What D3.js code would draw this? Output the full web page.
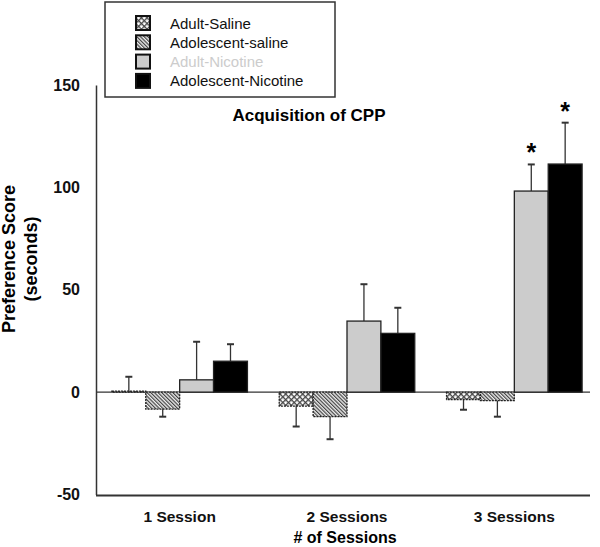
<!DOCTYPE html>
<html><head><meta charset="utf-8">
<script src="https://cdn.jsdelivr.net/npm/d3@7"></script>
<style>body{margin:0;background:#fff}svg{display:block}text{font-family:Arial,"Liberation Sans",sans-serif}</style>
</head><body><svg id="c" width="600" height="547"></svg>
<script>
const sessions = ["1 Session", "2 Sessions", "3 Sessions"];
const groups = ["Adult-Saline", "Adolescent-saline", "Adult-Nicotine", "Adolescent-Nicotine"];
const adultSaline = [0.5, -6.8, -3.6];
const adultSalineErr = [7, 10, 5];
const adolSaline = [-8.3, -12, -4.2];
const adolSalineErr = [3.7, 11, 7.8];
const adultNic = [6, 34.7, 98.2];
const adultNicErr = [18.6, 18, 13];
const adolNic = [15.1, 28.7, 111.4];
const adolNicErr = [8.3, 12.5, 20.2];
const yTicks = [-50, 0, 50, 100, 150];
const stars = [[2, 2], [2, 3]]; // [session index, group index]

const svg = d3.select("#c");
const defs = svg.append("defs");
const p1 = defs.append("pattern").attr("id","pCheck").attr("patternUnits","userSpaceOnUse").attr("width",4).attr("height",4).attr("patternTransform","rotate(45)");
p1.append("rect").attr("width",4).attr("height",4).attr("fill","#fff");
p1.append("rect").attr("width",4).attr("height",1.3).attr("fill","#444");
p1.append("rect").attr("width",1.3).attr("height",4).attr("fill","#444");
const p2 = defs.append("pattern").attr("id","pDiag").attr("patternUnits","userSpaceOnUse").attr("width",2.6).attr("height",2.6).attr("patternTransform","rotate(-45)");
p2.append("rect").attr("width",2.6).attr("height",2.6).attr("fill","#eee");
p2.append("rect").attr("width",1.2).attr("height",2.6).attr("fill","#444");

const fills = ["url(#pCheck)", "url(#pDiag)", "#cccccc", "#000000"];
const vals = [adultSaline, adolSaline, adultNic, adolNic];
const errs = [adultSalineErr, adolSalineErr, adultNicErr, adolNicErr];

const y = d3.scaleLinear().domain([-50,150]).range([494.5,85]);
const x0 = d3.scaleBand().domain(sessions).range([96,598]).paddingInner(0.19).paddingOuter(0.095);
const x1 = d3.scaleBand().domain(groups).range([0,x0.bandwidth()]);

const data = [];
sessions.forEach((s,i)=>groups.forEach((g,j)=>data.push({s,g,i,j,v:vals[j][i],e:errs[j][i]})));

svg.append("line").attr("x1",96).attr("x2",590).attr("y1",y(0)).attr("y2",y(0)).attr("stroke","#333").attr("stroke-width",1.3);

const eb = svg.append("g");
data.forEach(d=>{
  const cx = x0(d.s)+x1(d.g)+x1.bandwidth()/2;
  const end = d.v + (d.v>=0? d.e : -d.e);
  eb.append("line").attr("x1",cx).attr("x2",cx).attr("y1",y(d.v)).attr("y2",y(end)).attr("stroke","#333").attr("stroke-width",1.3);
  eb.append("line").attr("x1",cx-3.5).attr("x2",cx+3.5).attr("y1",y(end)).attr("y2",y(end)).attr("stroke","#333").attr("stroke-width",2);
});

svg.append("g").selectAll("rect").data(data).join("rect")
  .attr("x",d=>x0(d.s)+x1(d.g))
  .attr("width",x1.bandwidth())
  .attr("y",d=>y(Math.max(0,d.v)))
  .attr("height",d=>Math.abs(y(d.v)-y(0)))
  .attr("fill",d=>fills[d.j])
  .attr("stroke","#222")
  .attr("stroke-width",1.3)
  .attr("stroke-dasharray",d=>d.j<2?"2,1":null);

stars.forEach(([i,j])=>{
  const cx = x0(sessions[i])+x1(groups[j])+x1.bandwidth()/2;
  const top = vals[j][i]+errs[j][i];
  svg.append("text").attr("x",cx).attr("y",y(top)-3).attr("text-anchor","middle")
    .attr("font-size",25).attr("font-weight","bold").text("*");
});

const ya = svg.append("g").attr("transform","translate(96,0)").call(d3.axisLeft(y).tickValues(yTicks).tickFormat(d=>String(d)).tickSize(0).tickPadding(16));
ya.select(".domain").attr("stroke","#333").attr("stroke-width",1.5);
ya.selectAll("text").attr("font-size",16).attr("font-weight","bold").attr("fill","#111").attr("font-family","Arial, 'Liberation Sans', sans-serif");

const xa = svg.append("g").attr("transform","translate(0,495.5)").call(d3.axisBottom(x0).tickSize(0).tickPadding(15));
xa.select(".domain").attr("stroke","#333").attr("stroke-width",2.2).attr("d","M96,0H590");
xa.selectAll("text").attr("font-size",15.5).attr("font-weight","bold").attr("fill","#111").attr("font-family","Arial, 'Liberation Sans', sans-serif");

svg.append("text").attr("x",345).attr("y",543).attr("text-anchor","middle").attr("font-size",16).attr("font-weight","bold").text("# of Sessions");
svg.append("text").attr("transform","translate(15,259) rotate(-90)").attr("text-anchor","middle").attr("font-size",18).attr("font-weight","bold").text("Preference Score");
svg.append("text").attr("transform","translate(37,259) rotate(-90)").attr("text-anchor","middle").attr("font-size",18).attr("font-weight","bold").text("(seconds)");

svg.append("text").attr("x",309).attr("y",121).attr("text-anchor","middle").attr("font-size",17).attr("font-weight","bold").text("Acquisition of CPP");

svg.append("rect").attr("x",105).attr("y",2).attr("width",230).attr("height",95).attr("fill","#fff").attr("stroke","#333").attr("stroke-width",1.5);
const textCols = ["#111","#111","#cccccc","#111"];
groups.forEach((g,j)=>{
  const cy = 23 + j*19.3;
  svg.append("rect").attr("x",136).attr("y",cy-7).attr("width",14).attr("height",14).attr("fill",fills[j]).attr("stroke","#111").attr("stroke-width",2);
  svg.append("text").attr("x",170).attr("y",cy+5.5).attr("font-size",15).attr("fill",textCols[j]).text(g);
});
</script></body></html>
